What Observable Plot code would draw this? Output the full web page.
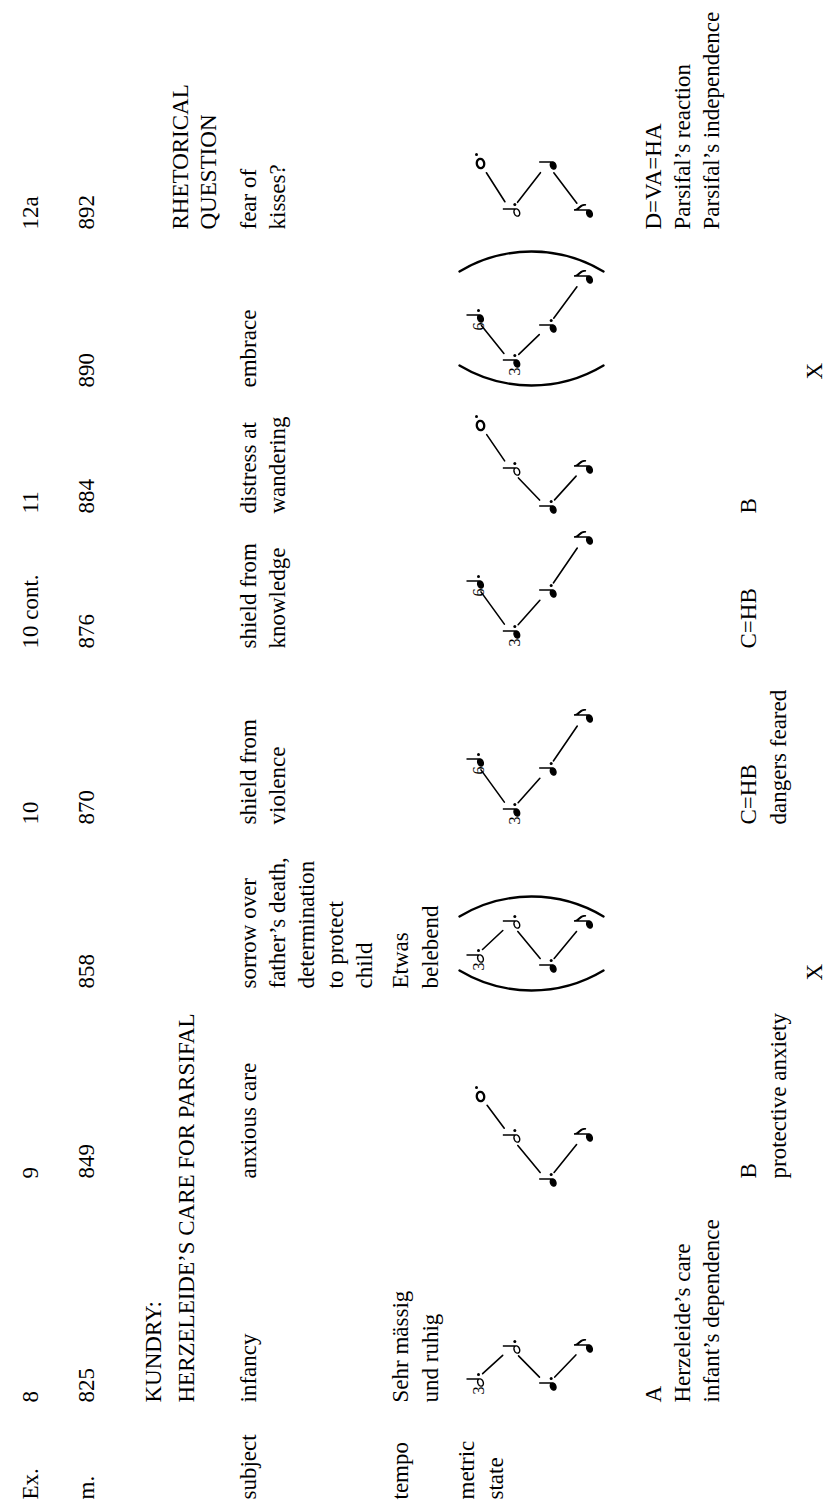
<!DOCTYPE html>
<html><head><meta charset="utf-8">
<script src="https://cdn.jsdelivr.net/npm/d3@7"></script>
<script src="https://cdn.jsdelivr.net/npm/@observablehq/plot@0.6"></script>
<style>
html,body{margin:0;padding:0;background:#fff;overflow:hidden;width:825px;height:1506px;}
#page{position:absolute;left:0;top:0;width:1506px;height:825px;transform-origin:0 0;transform:translate(0,1506px) rotate(-90deg);background:#fff;}
</style></head><body><div id="page"></div>
<script>
// ---------- data ----------
const rowLabelEx = ["Ex."];
const rowLabelM = ["m."];
const rowLabelSubject = ["subject"];
const rowLabelTempo = ["tempo"];
const rowLabelMetric = ["metric", "state"];

const measures   = ["825", "849", "858", "870", "876", "884", "890", "892"];
const exampleNo  = ["8", "9", "", "10", "10 cont.", "11", "", "12a"];
const titles     = [["KUNDRY:", "HERZELEIDE’S CARE FOR PARSIFAL"], [], [], [], [], [], [], ["RHETORICAL", "QUESTION"]];
const subjects   = [["infancy"], ["anxious care"], ["sorrow over", "father’s death,", "determination", "to protect", "child"],
                    ["shield from", "violence"], ["shield from", "knowledge"], ["distress at", "wandering"], ["embrace"], ["fear of", "kisses?"]];
const tempi      = [["Sehr mässig", "und ruhig"], [], ["Etwas", "belebend"], [], [], [], [], []];
const sectionsA  = [["A", "Herzeleide’s care", "infant’s dependence"], [], [], [], [], [], [], ["D=VA=HA", "Parsifal’s reaction", "Parsifal’s independence"]];
const sectionsB  = [[], ["B", "protective anxiety"], [], ["C=HB", "dangers feared"], ["C=HB"], ["B"], [], []];
const repeats    = ["", "", "X", "", "", "", "X", ""];

// metric-state diagrams: note (measure, horizontal position, metric level, value, grouping number)
const notes = [
  {m: "825", u: 123,  level: 0, type: "h.", pre: "3"},
  {m: "825", u: 156,  level: 1, type: "h.", pre: ""},
  {m: "825", u: 119,  level: 2, type: "q.", pre: ""},
  {m: "825", u: 157,  level: 3, type: "e",  pre: ""},
  {m: "849", u: 409,  level: 0, type: "w.", pre: ""},
  {m: "849", u: 367,  level: 1, type: "h.", pre: ""},
  {m: "849", u: 323,  level: 2, type: "q.", pre: ""},
  {m: "849", u: 368,  level: 3, type: "e",  pre: ""},
  {m: "858", u: 547,  level: 0, type: "h.", pre: "3"},
  {m: "858", u: 581,  level: 1, type: "h.", pre: ""},
  {m: "858", u: 537,  level: 2, type: "q.", pre: ""},
  {m: "858", u: 581,  level: 3, type: "e",  pre: ""},
  {m: "870", u: 743,  level: 0, type: "q.", pre: "6"},
  {m: "870", u: 693,  level: 1, type: "q.", pre: "3"},
  {m: "870", u: 734,  level: 2, type: "q.", pre: ""},
  {m: "870", u: 787,  level: 3, type: "e",  pre: ""},
  {m: "876", u: 921,  level: 0, type: "q.", pre: "6"},
  {m: "876", u: 871,  level: 1, type: "q.", pre: "3"},
  {m: "876", u: 912,  level: 2, type: "q.", pre: ""},
  {m: "876", u: 965,  level: 3, type: "e",  pre: ""},
  {m: "884", u: 1080, level: 0, type: "w.", pre: ""},
  {m: "884", u: 1034, level: 1, type: "h.", pre: ""},
  {m: "884", u: 996,  level: 2, type: "q.", pre: ""},
  {m: "884", u: 1036, level: 3, type: "e",  pre: ""},
  {m: "890", u: 1187, level: 0, type: "q.", pre: "6"},
  {m: "890", u: 1142, level: 1, type: "q.", pre: "3"},
  {m: "890", u: 1177, level: 2, type: "q.", pre: ""},
  {m: "890", u: 1226, level: 3, type: "e",  pre: ""},
  {m: "892", u: 1342, level: 0, type: "w.", pre: ""},
  {m: "892", u: 1293, level: 1, type: "h.", pre: ""},
  {m: "892", u: 1340, level: 2, type: "q",  pre: ""},
  {m: "892", u: 1292, level: 3, type: "e",  pre: ""}
];
const bracketed = ["858", "890"];

// ---------- layout ----------
const W = 1506, H = 825;
const colX = [6, 103, 327, 517, 681, 857, 992, 1118, 1276]; // label column + 8 measure columns
const FS = 23;
const levelY = d3.scaleLinear().domain([0, 3]).range([480, 589]);

const texts = [];
function block(col, lines, base, gap, out = texts) {
  lines.forEach((t, i) => { if (t) out.push({x: colX[col], y: base + i * gap, text: t}); });
}
block(0, rowLabelEx, 37, 0);
block(0, rowLabelM, 93, 0);
block(0, rowLabelSubject, 255, 29);
block(0, rowLabelTempo, 407, 30);
block(0, rowLabelMetric, 473, 29);
measures.forEach((d, i) => block(i + 1, [d], 93, 0));
exampleNo.forEach((d, i) => block(i + 1, [d], 37, 0));
titles.forEach((d, i) => block(i + 1, d, i === 0 ? 160 : 187, i === 0 ? 33 : 28));
subjects.forEach((d, i) => block(i + 1, d, 255, 29));
tempi.forEach((d, i) => block(i + 1, d, 407, 30));
sectionsA.forEach((d, i) => block(i + 1, d, 660, 29));
sectionsB.forEach((d, i) => block(i + 1, d, 755, 30));
const repTexts = [];
repeats.forEach((d, i) => block(i + 1, [d], 821, 0, repTexts));

const N = notes.map(d => ({...d, v: levelY(d.level)}));
const gx = d => d.u + (d.type[0] === "w" ? 0 : 1.5);
const gy = d => d.v - (d.type[0] === "w" ? 0 : 6);
const segs = [];
d3.group(N, d => d.m).forEach(arr => {
  arr.sort((a, b) => a.level - b.level);
  for (let i = 1; i < arr.length; i++) segs.push({x1: gx(arr[i-1]), y1: gy(arr[i-1]), x2: gx(arr[i]), y2: gy(arr[i])});
});
const parens = [];
bracketed.forEach(m => {
  const arr = N.filter(d => d.m === m);
  const lo = d3.min(arr, d => d.u) - 21, hi = d3.max(arr, d => d.u) + 27;
  const top = levelY(0) - 21, bot = levelY(3) + 14, depth = 19;
  parens.push({x1: lo + depth, y1: top, x2: lo + depth, y2: bot});
  parens.push({x1: hi - depth, y1: bot, x2: hi - depth, y2: top});
});

// ---------- note glyphs ----------
function ellipse(ctx, rx, ry, rot) {
  const c = Math.cos(rot), s = Math.sin(rot);
  for (let i = 0; i <= 28; i++) {
    const t = i / 28 * 2 * Math.PI;
    const x = rx * Math.cos(t) * c - ry * Math.sin(t) * s;
    const y = rx * Math.cos(t) * s + ry * Math.sin(t) * c;
    i ? ctx.lineTo(x, y) : ctx.moveTo(x, y);
  }
  ctx.closePath();
}
const symStem = {draw(ctx) { ellipse(ctx, 3.8, 2.7, -0.4); ctx.moveTo(3.5, -1); ctx.lineTo(3.5, -14); }};
const symEighth = {draw(ctx) { ellipse(ctx, 3.8, 2.7, -0.4); ctx.moveTo(3.5, -1); ctx.lineTo(3.5, -15.5);
  ctx.moveTo(3.5, -15.5); ctx.bezierCurveTo(4, -10, 10.5, -10, 8.5, -3.5); ctx.bezierCurveTo(9.2, -8, 5, -10, 3.5, -12.5); }};
const symWhole = {draw(ctx) { ellipse(ctx, 4.7, 3.7, -0.15); }};

const font = "Liberation Serif";
const chart = Plot.plot({
  width: W, height: H, margin: 0,
  x: {domain: [0, W], range: [0, W], axis: null},
  y: {domain: [0, H], range: [0, H], axis: null},
  style: {background: "#fff"},
  marks: [
    Plot.text(texts, {x: "x", y: "y", text: "text", textAnchor: "start", lineAnchor: "bottom", fontSize: FS, fontFamily: font, fill: "#000"}),
    Plot.text(repTexts, {x: "x", y: "y", text: "text", dx: 8, textAnchor: "start", lineAnchor: "bottom", fontSize: FS, fontFamily: font, fill: "#000"}),
    Plot.arrow(segs, {x1: "x1", y1: "y1", x2: "x2", y2: "y2", headLength: 0, insetStart: 11, insetEnd: 11, stroke: "#000", strokeWidth: 1.6}),
    Plot.arrow(parens, {x1: "x1", y1: "y1", x2: "x2", y2: "y2", bend: -31, headLength: 0, stroke: "#000", strokeWidth: 2.4}),
    Plot.dot(N.filter(d => d.type[0] === "q"), {x: "u", y: "v", symbol: symStem, fill: "#000", stroke: "#000", strokeWidth: 1.3}),
    Plot.dot(N.filter(d => d.type[0] === "h"), {x: "u", y: "v", symbol: symStem, fill: "none", stroke: "#000", strokeWidth: 1.4}),
    Plot.dot(N.filter(d => d.type[0] === "e"), {x: "u", y: "v", symbol: symEighth, fill: "#000", stroke: "#000", strokeWidth: 1.3}),
    Plot.dot(N.filter(d => d.type[0] === "w"), {x: "u", y: "v", symbol: symWhole, fill: "none", stroke: "#000", strokeWidth: 2.3}),
    Plot.dot(N.filter(d => d.type.endsWith(".") && d.type[0] !== "w"), {x: "u", y: "v", dx: 8, dy: -2, r: 1.5, fill: "#000"}),
    Plot.dot(N.filter(d => d.type[0] === "w"), {x: "u", y: "v", dx: 9, dy: -4, r: 1.5, fill: "#000"}),
    Plot.text(N.filter(d => d.pre), {x: "u", y: "v", text: "pre", dx: -4, dy: 3, textAnchor: "end", lineAnchor: "bottom", fontSize: 16, fontFamily: font, fill: "#000"})
  ]
});
document.getElementById("page").appendChild(chart);
</script>
</body></html>
